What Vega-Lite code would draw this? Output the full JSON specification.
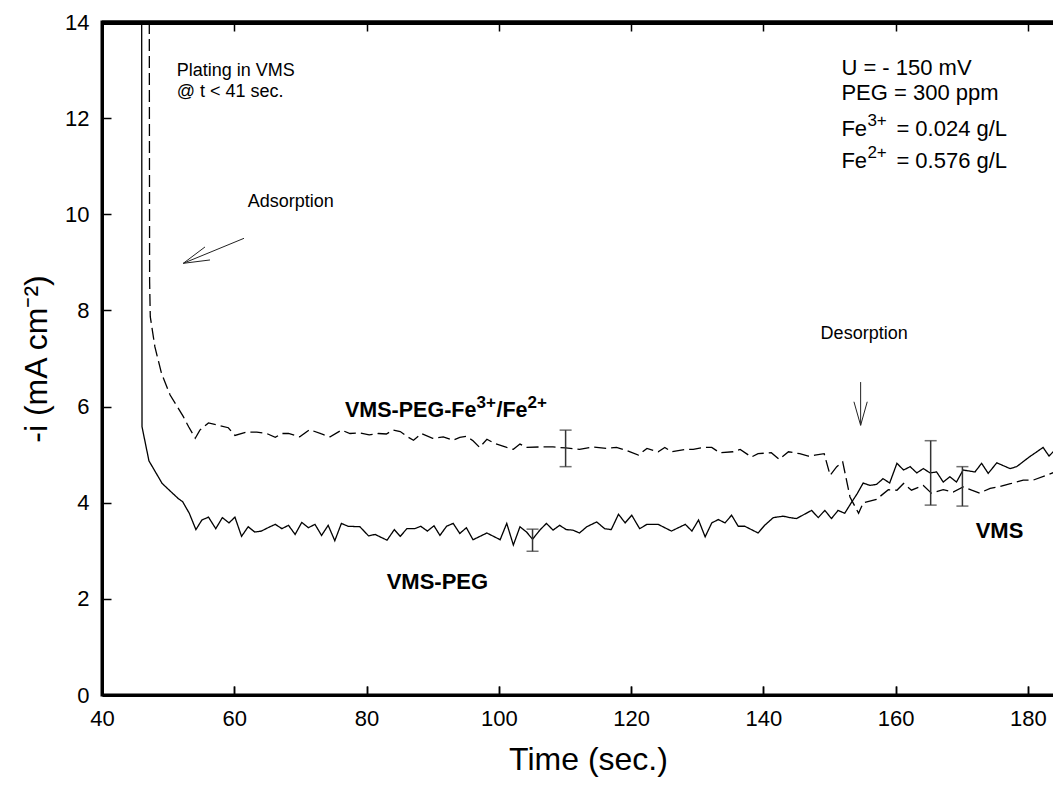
{
  "$schema": "https://vega.github.io/schema/vega-lite/v6.json",
  "width": 953,
  "height": 673,
  "autosize": {"type": "none"},
  "padding": {"left": 102, "top": 22, "right": 0, "bottom": 96},
  "background": "white",
  "config": {
    "view": {"stroke": "black", "strokeWidth": 3},
    "font": "Liberation Sans",
    "axis": {"domainColor": "black", "domainWidth": 3, "tickColor": "black", "tickWidth": 1.5, "labelColor": "black", "titleColor": "black", "labelFont": "Liberation Sans", "titleFont": "Liberation Sans", "titleFontWeight": "normal"}
  },
  "datasets": {
    "curves": [
      {"t": 46.0, "v": 14.0, "s": "VMS-PEG"}, {"t": 46.05, "v": 5.58, "s": "VMS-PEG"}, {"t": 47.1, "v": 4.87, "s": "VMS-PEG"}, {"t": 49.1, "v": 4.40, "s": "VMS-PEG"}, {"t": 51.5, "v": 4.09, "s": "VMS-PEG"}, {"t": 52.2, "v": 4.02, "s": "VMS-PEG"}, {"t": 53.2, "v": 3.78, "s": "VMS-PEG"}, {"t": 54.2, "v": 3.44, "s": "VMS-PEG"}, {"t": 55.1, "v": 3.64, "s": "VMS-PEG"}, {"t": 56.1, "v": 3.70, "s": "VMS-PEG"}, {"t": 57.2, "v": 3.46, "s": "VMS-PEG"}, {"t": 58.2, "v": 3.69, "s": "VMS-PEG"}, {"t": 59.2, "v": 3.58, "s": "VMS-PEG"}, {"t": 60.1, "v": 3.70, "s": "VMS-PEG"}, {"t": 61.1, "v": 3.30, "s": "VMS-PEG"}, {"t": 62.1, "v": 3.50, "s": "VMS-PEG"}, {"t": 63.1, "v": 3.39, "s": "VMS-PEG"}, {"t": 64.1, "v": 3.41, "s": "VMS-PEG"}, {"t": 65.1, "v": 3.48, "s": "VMS-PEG"}, {"t": 66.2, "v": 3.55, "s": "VMS-PEG"}, {"t": 67.2, "v": 3.46, "s": "VMS-PEG"}, {"t": 68.2, "v": 3.53, "s": "VMS-PEG"}, {"t": 69.2, "v": 3.34, "s": "VMS-PEG"}, {"t": 70.2, "v": 3.59, "s": "VMS-PEG"}, {"t": 71.2, "v": 3.48, "s": "VMS-PEG"}, {"t": 72.2, "v": 3.55, "s": "VMS-PEG"}, {"t": 73.2, "v": 3.32, "s": "VMS-PEG"}, {"t": 74.2, "v": 3.53, "s": "VMS-PEG"}, {"t": 75.2, "v": 3.21, "s": "VMS-PEG"}, {"t": 76.2, "v": 3.57, "s": "VMS-PEG"}, {"t": 77.2, "v": 3.51, "s": "VMS-PEG"}, {"t": 79.0, "v": 3.50, "s": "VMS-PEG"}, {"t": 80.3, "v": 3.31, "s": "VMS-PEG"}, {"t": 81.3, "v": 3.34, "s": "VMS-PEG"}, {"t": 83.1, "v": 3.22, "s": "VMS-PEG"}, {"t": 84.2, "v": 3.44, "s": "VMS-PEG"}, {"t": 85.1, "v": 3.30, "s": "VMS-PEG"}, {"t": 86.1, "v": 3.46, "s": "VMS-PEG"}, {"t": 87.3, "v": 3.46, "s": "VMS-PEG"}, {"t": 88.2, "v": 3.51, "s": "VMS-PEG"}, {"t": 89.2, "v": 3.41, "s": "VMS-PEG"}, {"t": 90.2, "v": 3.52, "s": "VMS-PEG"}, {"t": 91.1, "v": 3.32, "s": "VMS-PEG"}, {"t": 92.1, "v": 3.51, "s": "VMS-PEG"}, {"t": 93.1, "v": 3.57, "s": "VMS-PEG"}, {"t": 94.1, "v": 3.36, "s": "VMS-PEG"}, {"t": 95.1, "v": 3.48, "s": "VMS-PEG"}, {"t": 96.1, "v": 3.23, "s": "VMS-PEG"}, {"t": 98.2, "v": 3.37, "s": "VMS-PEG"}, {"t": 100.2, "v": 3.23, "s": "VMS-PEG"}, {"t": 101.2, "v": 3.57, "s": "VMS-PEG"}, {"t": 102.2, "v": 3.12, "s": "VMS-PEG"}, {"t": 103.2, "v": 3.50, "s": "VMS-PEG"}, {"t": 104.2, "v": 3.39, "s": "VMS-PEG"}, {"t": 105.1, "v": 3.24, "s": "VMS-PEG"}, {"t": 106.2, "v": 3.43, "s": "VMS-PEG"}, {"t": 107.2, "v": 3.57, "s": "VMS-PEG"}, {"t": 108.2, "v": 3.43, "s": "VMS-PEG"}, {"t": 109.2, "v": 3.53, "s": "VMS-PEG"}, {"t": 110.2, "v": 3.44, "s": "VMS-PEG"}, {"t": 111.2, "v": 3.43, "s": "VMS-PEG"}, {"t": 112.2, "v": 3.37, "s": "VMS-PEG"}, {"t": 113.3, "v": 3.50, "s": "VMS-PEG"}, {"t": 114.8, "v": 3.60, "s": "VMS-PEG"}, {"t": 116.0, "v": 3.46, "s": "VMS-PEG"}, {"t": 117.0, "v": 3.44, "s": "VMS-PEG"}, {"t": 118.1, "v": 3.76, "s": "VMS-PEG"}, {"t": 119.1, "v": 3.58, "s": "VMS-PEG"}, {"t": 120.1, "v": 3.74, "s": "VMS-PEG"}, {"t": 121.3, "v": 3.46, "s": "VMS-PEG"}, {"t": 122.4, "v": 3.55, "s": "VMS-PEG"}, {"t": 124.1, "v": 3.55, "s": "VMS-PEG"}, {"t": 126.1, "v": 3.41, "s": "VMS-PEG"}, {"t": 128.2, "v": 3.55, "s": "VMS-PEG"}, {"t": 129.2, "v": 3.41, "s": "VMS-PEG"}, {"t": 130.2, "v": 3.64, "s": "VMS-PEG"}, {"t": 131.2, "v": 3.29, "s": "VMS-PEG"}, {"t": 132.2, "v": 3.58, "s": "VMS-PEG"}, {"t": 133.2, "v": 3.65, "s": "VMS-PEG"}, {"t": 134.2, "v": 3.58, "s": "VMS-PEG"}, {"t": 135.2, "v": 3.74, "s": "VMS-PEG"}, {"t": 136.2, "v": 3.51, "s": "VMS-PEG"}, {"t": 137.2, "v": 3.51, "s": "VMS-PEG"}, {"t": 139.2, "v": 3.37, "s": "VMS-PEG"}, {"t": 140.2, "v": 3.53, "s": "VMS-PEG"}, {"t": 141.5, "v": 3.69, "s": "VMS-PEG"}, {"t": 143.0, "v": 3.72, "s": "VMS-PEG"}, {"t": 144.0, "v": 3.69, "s": "VMS-PEG"}, {"t": 145.0, "v": 3.67, "s": "VMS-PEG"}, {"t": 147.3, "v": 3.84, "s": "VMS-PEG"}, {"t": 148.3, "v": 3.69, "s": "VMS-PEG"}, {"t": 149.3, "v": 3.84, "s": "VMS-PEG"}, {"t": 150.3, "v": 3.67, "s": "VMS-PEG"}, {"t": 151.3, "v": 3.84, "s": "VMS-PEG"}, {"t": 152.3, "v": 3.78, "s": "VMS-PEG"}, {"t": 153.3, "v": 4.00, "s": "VMS-PEG"}, {"t": 154.2, "v": 4.19, "s": "VMS-PEG"}, {"t": 155.1, "v": 4.41, "s": "VMS-PEG"}, {"t": 156.1, "v": 4.36, "s": "VMS-PEG"}, {"t": 157.1, "v": 4.38, "s": "VMS-PEG"}, {"t": 158.1, "v": 4.50, "s": "VMS-PEG"}, {"t": 159.1, "v": 4.41, "s": "VMS-PEG"}, {"t": 160.2, "v": 4.82, "s": "VMS-PEG"}, {"t": 161.2, "v": 4.68, "s": "VMS-PEG"}, {"t": 162.2, "v": 4.75, "s": "VMS-PEG"}, {"t": 163.2, "v": 4.62, "s": "VMS-PEG"}, {"t": 164.2, "v": 4.71, "s": "VMS-PEG"}, {"t": 165.2, "v": 4.62, "s": "VMS-PEG"}, {"t": 166.2, "v": 4.64, "s": "VMS-PEG"}, {"t": 167.2, "v": 4.43, "s": "VMS-PEG"}, {"t": 168.2, "v": 4.54, "s": "VMS-PEG"}, {"t": 169.2, "v": 4.43, "s": "VMS-PEG"}, {"t": 170.2, "v": 4.68, "s": "VMS-PEG"}, {"t": 172.0, "v": 4.64, "s": "VMS-PEG"}, {"t": 173.0, "v": 4.82, "s": "VMS-PEG"}, {"t": 174.0, "v": 4.61, "s": "VMS-PEG"}, {"t": 175.3, "v": 4.83, "s": "VMS-PEG"}, {"t": 177.3, "v": 4.71, "s": "VMS-PEG"}, {"t": 178.3, "v": 4.75, "s": "VMS-PEG"}, {"t": 180.2, "v": 4.95, "s": "VMS-PEG"}, {"t": 182.3, "v": 5.15, "s": "VMS-PEG"}, {"t": 183.2, "v": 4.97, "s": "VMS-PEG"}, {"t": 184.1, "v": 5.10, "s": "VMS-PEG"},
      {"t": 47.15, "v": 14.0, "s": "Fe"}, {"t": 47.2, "v": 8.6, "s": "Fe"}, {"t": 47.3, "v": 7.87, "s": "Fe"}, {"t": 48.0, "v": 7.24, "s": "Fe"}, {"t": 49.0, "v": 6.69, "s": "Fe"}, {"t": 50.3, "v": 6.24, "s": "Fe"}, {"t": 52.3, "v": 5.79, "s": "Fe"}, {"t": 53.1, "v": 5.58, "s": "Fe"}, {"t": 54.1, "v": 5.34, "s": "Fe"}, {"t": 54.8, "v": 5.51, "s": "Fe"}, {"t": 56.1, "v": 5.66, "s": "Fe"}, {"t": 57.6, "v": 5.61, "s": "Fe"}, {"t": 59.1, "v": 5.56, "s": "Fe"}, {"t": 60.1, "v": 5.40, "s": "Fe"}, {"t": 61.9, "v": 5.47, "s": "Fe"}, {"t": 63.4, "v": 5.47, "s": "Fe"}, {"t": 64.9, "v": 5.44, "s": "Fe"}, {"t": 66.2, "v": 5.36, "s": "Fe"}, {"t": 67.2, "v": 5.44, "s": "Fe"}, {"t": 68.2, "v": 5.44, "s": "Fe"}, {"t": 69.9, "v": 5.37, "s": "Fe"}, {"t": 71.4, "v": 5.52, "s": "Fe"}, {"t": 73.2, "v": 5.43, "s": "Fe"}, {"t": 74.5, "v": 5.37, "s": "Fe"}, {"t": 76.2, "v": 5.51, "s": "Fe"}, {"t": 77.5, "v": 5.44, "s": "Fe"}, {"t": 79.0, "v": 5.45, "s": "Fe"}, {"t": 80.4, "v": 5.41, "s": "Fe"}, {"t": 81.8, "v": 5.44, "s": "Fe"}, {"t": 83.0, "v": 5.43, "s": "Fe"}, {"t": 84.0, "v": 5.51, "s": "Fe"}, {"t": 85.1, "v": 5.48, "s": "Fe"}, {"t": 86.1, "v": 5.38, "s": "Fe"}, {"t": 87.1, "v": 5.30, "s": "Fe"}, {"t": 88.3, "v": 5.44, "s": "Fe"}, {"t": 90.0, "v": 5.34, "s": "Fe"}, {"t": 91.6, "v": 5.37, "s": "Fe"}, {"t": 93.1, "v": 5.30, "s": "Fe"}, {"t": 94.1, "v": 5.36, "s": "Fe"}, {"t": 95.1, "v": 5.38, "s": "Fe"}, {"t": 96.1, "v": 5.29, "s": "Fe"}, {"t": 97.1, "v": 5.15, "s": "Fe"}, {"t": 98.2, "v": 5.32, "s": "Fe"}, {"t": 99.4, "v": 5.23, "s": "Fe"}, {"t": 101.2, "v": 5.15, "s": "Fe"}, {"t": 102.2, "v": 5.11, "s": "Fe"}, {"t": 103.2, "v": 5.22, "s": "Fe"}, {"t": 104.2, "v": 5.15, "s": "Fe"}, {"t": 106.2, "v": 5.16, "s": "Fe"}, {"t": 108.2, "v": 5.16, "s": "Fe"}, {"t": 110.1, "v": 5.14, "s": "Fe"}, {"t": 112.2, "v": 5.11, "s": "Fe"}, {"t": 114.3, "v": 5.16, "s": "Fe"}, {"t": 116.3, "v": 5.13, "s": "Fe"}, {"t": 117.8, "v": 5.15, "s": "Fe"}, {"t": 119.3, "v": 5.09, "s": "Fe"}, {"t": 121.1, "v": 4.99, "s": "Fe"}, {"t": 122.4, "v": 5.13, "s": "Fe"}, {"t": 124.1, "v": 5.06, "s": "Fe"}, {"t": 125.1, "v": 5.15, "s": "Fe"}, {"t": 126.1, "v": 5.06, "s": "Fe"}, {"t": 128.2, "v": 5.11, "s": "Fe"}, {"t": 129.4, "v": 5.11, "s": "Fe"}, {"t": 130.9, "v": 5.15, "s": "Fe"}, {"t": 132.2, "v": 5.15, "s": "Fe"}, {"t": 133.4, "v": 5.04, "s": "Fe"}, {"t": 135.4, "v": 5.06, "s": "Fe"}, {"t": 136.5, "v": 5.11, "s": "Fe"}, {"t": 138.2, "v": 4.95, "s": "Fe"}, {"t": 139.2, "v": 5.02, "s": "Fe"}, {"t": 141.2, "v": 5.04, "s": "Fe"}, {"t": 142.4, "v": 4.90, "s": "Fe"}, {"t": 143.8, "v": 5.06, "s": "Fe"}, {"t": 145.5, "v": 5.02, "s": "Fe"}, {"t": 146.8, "v": 4.97, "s": "Fe"}, {"t": 147.8, "v": 4.99, "s": "Fe"}, {"t": 149.2, "v": 5.02, "s": "Fe"}, {"t": 150.1, "v": 4.57, "s": "Fe"}, {"t": 151.1, "v": 4.75, "s": "Fe"}, {"t": 152.0, "v": 4.85, "s": "Fe"}, {"t": 153.1, "v": 4.12, "s": "Fe"}, {"t": 154.4, "v": 3.78, "s": "Fe"}, {"t": 155.1, "v": 4.00, "s": "Fe"}, {"t": 157.1, "v": 4.07, "s": "Fe"}, {"t": 158.9, "v": 4.27, "s": "Fe"}, {"t": 160.2, "v": 4.26, "s": "Fe"}, {"t": 161.2, "v": 4.40, "s": "Fe"}, {"t": 162.4, "v": 4.26, "s": "Fe"}, {"t": 164.2, "v": 4.36, "s": "Fe"}, {"t": 165.4, "v": 4.20, "s": "Fe"}, {"t": 167.2, "v": 4.27, "s": "Fe"}, {"t": 168.7, "v": 4.22, "s": "Fe"}, {"t": 170.2, "v": 4.33, "s": "Fe"}, {"t": 171.5, "v": 4.26, "s": "Fe"}, {"t": 172.7, "v": 4.20, "s": "Fe"}, {"t": 174.3, "v": 4.30, "s": "Fe"}, {"t": 175.8, "v": 4.34, "s": "Fe"}, {"t": 177.5, "v": 4.40, "s": "Fe"}, {"t": 179.3, "v": 4.47, "s": "Fe"}, {"t": 180.8, "v": 4.47, "s": "Fe"}, {"t": 182.8, "v": 4.57, "s": "Fe"}, {"t": 184.1, "v": 4.64, "s": "Fe"}
    ],
    "frame": [{"t": 40, "t2": 184.1, "v": 14, "v2": 13.94}],
    "errbars": [
      {"t": 105.1, "lo": 2.99, "hi": 3.45},
      {"t": 110.1, "lo": 4.75, "hi": 5.51},
      {"t": 165.3, "lo": 3.95, "hi": 5.29},
      {"t": 170.1, "lo": 3.93, "hi": 4.75}
    ],
    "arrows": [
      {"t": 61.47, "v": 9.50, "t2": 52.29, "v2": 8.98},
      {"t": 52.29, "v": 8.98, "t2": 55.57, "v2": 9.32},
      {"t": 52.29, "v": 8.98, "t2": 56.33, "v2": 9.05},
      {"t": 154.71, "v": 6.51, "t2": 154.71, "v2": 5.61},
      {"t": 154.71, "v": 5.61, "t2": 153.7, "v2": 6.10},
      {"t": 154.71, "v": 5.61, "t2": 155.71, "v2": 6.10}
    ],
    "notes": [
      {"t": 51.29, "v": 12.98, "label": "Plating in VMS"},
      {"t": 51.29, "v": 12.55, "label": "@ t < 41 sec."},
      {"t": 62.03, "v": 10.26, "label": "Adsorption"},
      {"t": 148.66, "v": 7.52, "label": "Desorption"}
    ],
    "info": [
      {"t": 151.8, "v": 13.04, "label": "U = - 150 mV"},
      {"t": 151.8, "v": 12.52, "label": "PEG = 300 ppm"}
    ],
    "info_fe": [
      {"t": 151.8, "v": 11.77, "a": "Fe", "b": "3+", "c": "= 0.024 g/L"},
      {"t": 151.8, "v": 11.11, "a": "Fe", "b": "2+", "c": "= 0.576 g/L"}
    ],
    "series": [
      {"t": 83.04, "v": 2.35, "label": "VMS-PEG"},
      {"t": 172.1, "v": 3.42, "label": "VMS"}
    ],
    "fe_label": [
      {"t": 76.74, "v": 5.91, "a": "VMS-PEG-Fe", "b": "3+", "c": "/Fe", "d": "2+"}
    ]
  },
  "layer": [
    {
      "data": {"name": "curves"},
      "mark": {"type": "line", "color": "black", "strokeWidth": 1.3, "clip": true},
      "encoding": {
        "x": {"field": "t", "type": "quantitative", "scale": {"domain": [40, 184.1], "nice": false, "zero": false},
              "axis": {"orient": "bottom", "values": [40, 60, 80, 100, 120, 140, 160, 180], "tickSize": -9, "labelFontSize": 22, "labelPadding": 22, "title": "Time (sec.)", "titleFontSize": 32, "titlePadding": 15, "titleX": 486, "labelFlush": false,
                       "grid": true, "gridColor": "black", "gridWidth": 1.5, "gridOpacity": 1, "gridDash": [9, 655, 9, 0]}},
        "y": {"field": "v", "type": "quantitative", "scale": {"domain": [0, 14], "nice": false},
              "axis": {"values": [0, 2, 4, 6, 8, 10, 12, 14], "tickSize": -9, "labelFontSize": 22, "labelPadding": 22, "title": "-i (mA cm⁻²)", "titleFontSize": 32, "titlePadding": 11, "grid": false}},
        "strokeDash": {"field": "s", "type": "nominal", "scale": {"domain": ["VMS-PEG", "Fe"], "range": [[1, 0], [12, 5]]}, "legend": null}
      }
    },
    {
      "data": {"name": "frame"},
      "mark": {"type": "rect", "color": "black", "opacity": 1},
      "encoding": {
        "x": {"field": "t", "type": "quantitative"},
        "x2": {"field": "t2"},
        "y": {"field": "v", "type": "quantitative"},
        "y2": {"field": "v2"}
      }
    },
    {
      "data": {"name": "frame"},
      "mark": {"type": "rule", "color": "black", "strokeWidth": 3},
      "encoding": {
        "x": {"field": "t", "type": "quantitative"},
        "x2": {"field": "t2"},
        "y": {"field": "v", "type": "quantitative"},
        "y2": {"field": "v"}
      }
    },
    {
      "data": {"name": "errbars"},
      "mark": {"type": "rule", "color": "#333", "strokeWidth": 1.5},
      "encoding": {
        "x": {"field": "t", "type": "quantitative"},
        "y": {"field": "lo", "type": "quantitative"},
        "y2": {"field": "hi"}
      }
    },
    {
      "data": {"name": "errbars"},
      "mark": {"type": "tick", "color": "#333", "orient": "horizontal", "size": 12, "thickness": 1.5},
      "encoding": {
        "x": {"field": "t", "type": "quantitative"},
        "y": {"field": "lo", "type": "quantitative"}
      }
    },
    {
      "data": {"name": "errbars"},
      "mark": {"type": "tick", "color": "#333", "orient": "horizontal", "size": 12, "thickness": 1.5},
      "encoding": {
        "x": {"field": "t", "type": "quantitative"},
        "y": {"field": "hi", "type": "quantitative"}
      }
    },
    {
      "data": {"name": "arrows"},
      "mark": {"type": "rule", "color": "#222", "strokeWidth": 1},
      "encoding": {
        "x": {"field": "t", "type": "quantitative"},
        "y": {"field": "v", "type": "quantitative"},
        "x2": {"field": "t2"},
        "y2": {"field": "v2"}
      }
    },
    {
      "data": {"name": "notes"},
      "mark": {"type": "text", "align": "left", "baseline": "middle", "fontSize": 18, "font": "Liberation Sans", "color": "black"},
      "encoding": {
        "x": {"field": "t", "type": "quantitative"},
        "y": {"field": "v", "type": "quantitative"},
        "text": {"field": "label"}
      }
    },
    {
      "data": {"name": "info"},
      "mark": {"type": "text", "align": "left", "baseline": "middle", "fontSize": 22, "font": "Liberation Sans", "color": "black"},
      "encoding": {
        "x": {"field": "t", "type": "quantitative"},
        "y": {"field": "v", "type": "quantitative"},
        "text": {"field": "label"}
      }
    },
    {
      "data": {"name": "info_fe"},
      "mark": {"type": "text", "align": "left", "baseline": "middle", "fontSize": 22, "font": "Liberation Sans", "color": "black"},
      "encoding": {
        "x": {"field": "t", "type": "quantitative"},
        "y": {"field": "v", "type": "quantitative"},
        "text": {"field": "a"}
      }
    },
    {
      "data": {"name": "info_fe"},
      "mark": {"type": "text", "align": "left", "baseline": "middle", "fontSize": 17, "font": "Liberation Sans", "color": "black", "dx": 26, "dy": -8},
      "encoding": {
        "x": {"field": "t", "type": "quantitative"},
        "y": {"field": "v", "type": "quantitative"},
        "text": {"field": "b"}
      }
    },
    {
      "data": {"name": "info_fe"},
      "mark": {"type": "text", "align": "left", "baseline": "middle", "fontSize": 22, "font": "Liberation Sans", "color": "black", "dx": 55},
      "encoding": {
        "x": {"field": "t", "type": "quantitative"},
        "y": {"field": "v", "type": "quantitative"},
        "text": {"field": "c"}
      }
    },
    {
      "data": {"name": "series"},
      "mark": {"type": "text", "align": "left", "baseline": "middle", "fontSize": 22, "fontWeight": "bold", "font": "Liberation Sans", "color": "black"},
      "encoding": {
        "x": {"field": "t", "type": "quantitative"},
        "y": {"field": "v", "type": "quantitative"},
        "text": {"field": "label"}
      }
    },
    {
      "data": {"name": "fe_label"},
      "mark": {"type": "text", "align": "left", "baseline": "middle", "fontSize": 21.5, "fontWeight": "bold", "font": "Liberation Sans", "color": "black"},
      "encoding": {
        "x": {"field": "t", "type": "quantitative"},
        "y": {"field": "v", "type": "quantitative"},
        "text": {"field": "a"}
      }
    },
    {
      "data": {"name": "fe_label"},
      "mark": {"type": "text", "align": "left", "baseline": "middle", "fontSize": 17, "fontWeight": "bold", "font": "Liberation Sans", "color": "black", "dx": 131.5, "dy": -8},
      "encoding": {
        "x": {"field": "t", "type": "quantitative"},
        "y": {"field": "v", "type": "quantitative"},
        "text": {"field": "b"}
      }
    },
    {
      "data": {"name": "fe_label"},
      "mark": {"type": "text", "align": "left", "baseline": "middle", "fontSize": 21.5, "fontWeight": "bold", "font": "Liberation Sans", "color": "black", "dx": 151.5},
      "encoding": {
        "x": {"field": "t", "type": "quantitative"},
        "y": {"field": "v", "type": "quantitative"},
        "text": {"field": "c"}
      }
    },
    {
      "data": {"name": "fe_label"},
      "mark": {"type": "text", "align": "left", "baseline": "middle", "fontSize": 17, "fontWeight": "bold", "font": "Liberation Sans", "color": "black", "dx": 182.5, "dy": -8},
      "encoding": {
        "x": {"field": "t", "type": "quantitative"},
        "y": {"field": "v", "type": "quantitative"},
        "text": {"field": "d"}
      }
    }
  ]
}
